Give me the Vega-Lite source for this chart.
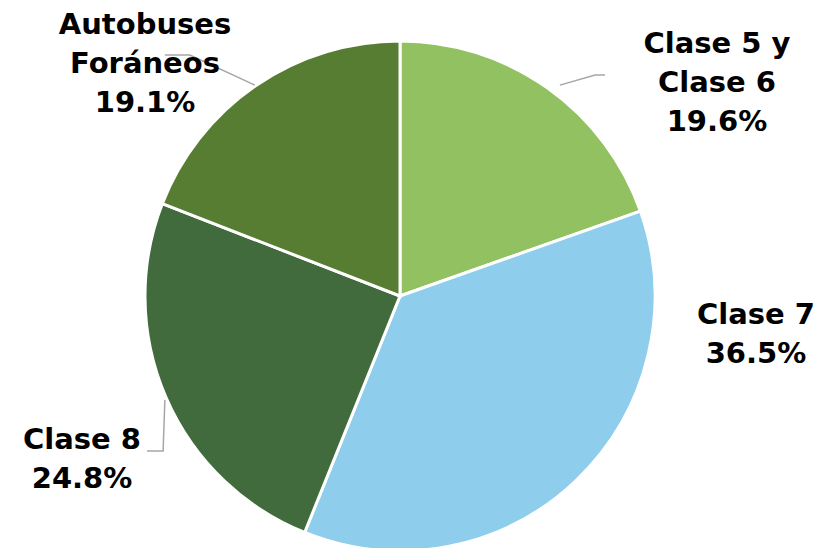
{
  "$schema": "https://vega.github.io/schema/vega-lite/v6.json",
  "width": 800,
  "height": 592,
  "padding": {"left": 0, "right": 21, "top": 0, "bottom": 0},
  "autosize": {"type": "none"},
  "background": "white",
  "config": {"view": {"stroke": null}},
  "datasets": {
    "slices": [
      {"categoria": "Clase 5 y Clase 6", "pct": 19.6, "orden": 1},
      {"categoria": "Clase 7", "pct": 36.5, "orden": 2},
      {"categoria": "Clase 8", "pct": 24.8, "orden": 3},
      {"categoria": "Autobuses Foráneos", "pct": 19.1, "orden": 4}
    ],
    "labels": [
      {"texto": "Autobuses\nForáneos\n19.1%", "lx": -100, "ly": 106.3},
      {"texto": "Clase 5 y\nClase 6\n19.6%", "lx": 124.3, "ly": 98.8},
      {"texto": "Clase 7\n36.5%", "lx": 139.6, "ly": -7.5},
      {"texto": "Clase 8\n24.8%", "lx": -124.7, "ly": -56.5}
    ],
    "leaders": [
      {"grupo": "a", "p": 1, "lx": -92.2, "ly": 94.5},
      {"grupo": "a", "p": 2, "lx": -82.4, "ly": 94.5},
      {"grupo": "a", "p": 3, "lx": -56.9, "ly": 82.7},
      {"grupo": "b", "p": 1, "lx": 62.7, "ly": 82.7},
      {"grupo": "b", "p": 2, "lx": 76.5, "ly": 86.7},
      {"grupo": "b", "p": 3, "lx": 80.4, "ly": 86.7},
      {"grupo": "c", "p": 1, "lx": -99.2, "ly": -60.8},
      {"grupo": "c", "p": 2, "lx": -92.9, "ly": -60.8},
      {"grupo": "c", "p": 3, "lx": -92.2, "ly": -40.8}
    ]
  },
  "layer": [
    {
      "data": {"name": "slices"},
      "mark": {"type": "arc", "outerRadius": 255, "stroke": "white", "strokeWidth": 3},
      "encoding": {
        "theta": {"field": "pct", "type": "quantitative", "stack": true},
        "order": {"field": "orden", "type": "quantitative", "sort": "ascending"},
        "color": {
          "field": "categoria",
          "type": "nominal",
          "legend": null,
          "scale": {
            "domain": ["Clase 5 y Clase 6", "Clase 7", "Clase 8", "Autobuses Foráneos"],
            "range": ["#92C162", "#8FCDED", "#416A3D", "#577D32"]
          }
        }
      }
    },
    {
      "data": {"name": "leaders"},
      "mark": {"type": "line", "color": "#A6A6A6", "strokeWidth": 1.5},
      "encoding": {
        "x": {"field": "lx", "type": "quantitative", "axis": null, "scale": {"domain": [-156.86, 156.86], "nice": false, "zero": false}},
        "y": {"field": "ly", "type": "quantitative", "axis": null, "scale": {"domain": [-116.08, 116.08], "nice": false, "zero": false}},
        "detail": {"field": "grupo"},
        "order": {"field": "p"}
      }
    },
    {
      "data": {"name": "labels"},
      "mark": {"type": "text", "font": "DejaVu Sans", "fontWeight": "bold", "fontSize": 29, "lineHeight": 39, "lineBreak": "\n", "align": "center", "baseline": "middle", "color": "#000000"},
      "encoding": {
        "x": {"field": "lx", "type": "quantitative", "axis": null, "scale": {"domain": [-156.86, 156.86], "nice": false, "zero": false}},
        "y": {"field": "ly", "type": "quantitative", "axis": null, "scale": {"domain": [-116.08, 116.08], "nice": false, "zero": false}},
        "text": {"field": "texto"}
      }
    }
  ]
}
